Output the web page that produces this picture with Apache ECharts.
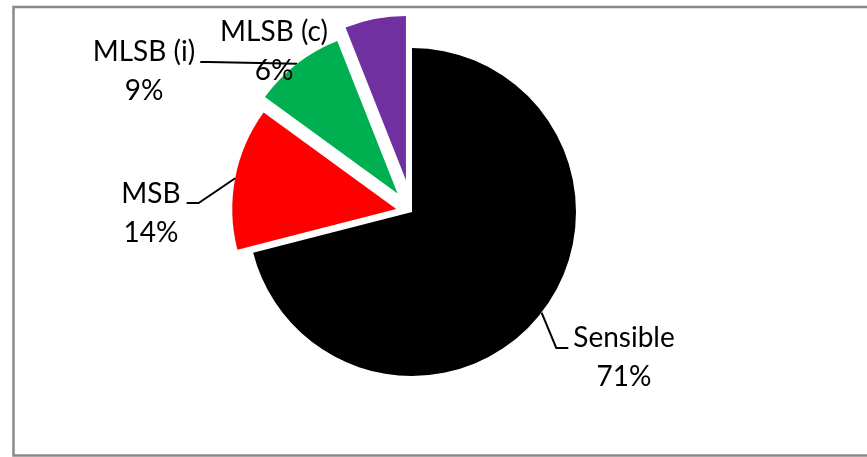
<!DOCTYPE html>
<html>
<head>
<meta charset="utf-8">
<script src="https://cdn.jsdelivr.net/npm/echarts@6/dist/echarts.min.js"></script>
<style>
  html, body { margin: 0; padding: 0; background: #ffffff; }
  #chart { width: 867px; height: 457px; }
</style>
</head>
<body>
<div id="chart"></div>
<script>
// Data
const categories = ['Sensible', 'MSB', 'MLSB (i)', 'MLSB (c)'];
const shares = [71, 14, 9, 6];

// Styling / layout
const sliceColors = ['#000000', '#FF0000', '#00B050', '#7030A0'];
const CX = 412, CY = 212, R = 164;
const explode = [0, 16, 23.5, 32.5];          // pull-out distance of each slice (px)
const labelPos = [[624, 357], [151, 213], [144, 71], [274, 51]];
// leader line: which side of the label it leaves from, gap to the text, horizontal run, vertical offset
const leaders = [
  { side: 'left', gap: 5, run: 12, dy: -9 },
  { side: 'right', gap: 6, run: 12, dy: -10 },
  { side: 'right', gap: 5, run: 8, dy: -9 },
  null
];

const total = shares.reduce((a, b) => a + b, 0);
// clockwise angle from 12 o'clock to the middle of each slice
const midAngles = [];
{
  let acc = 0;
  shares.forEach(v => {
    midAngles.push(((acc + v / 2) / total) * 2 * Math.PI);
    acc += v;
  });
}
function centerOf(i) {
  const a = midAngles[i];
  return [CX + explode[i] * Math.sin(a), CY - explode[i] * Math.cos(a)];
}
function arcPoint(i) {
  const c = centerOf(i);
  const a = midAngles[i];
  return [c[0] + R * Math.sin(a), c[1] - R * Math.cos(a)];
}

const labelFont = { fontFamily: 'Lato', fontSize: 28, lineHeight: 39, color: '#000000' };

const chart = echarts.init(document.getElementById('chart'), null, { renderer: 'canvas' });

chart.setOption({
  animation: false,
  backgroundColor: '#ffffff',
  graphic: [{
    type: 'rect',
    silent: true,
    shape: { x: 13.5, y: 7, width: 900, height: 448.5 },
    style: { fill: 'none', stroke: '#898989', lineWidth: 2.5 }
  }],
  series: categories.map((_, k) => ({
    type: 'pie',
    center: centerOf(k),
    radius: R,
    startAngle: 90,
    clockwise: true,
    avoidLabelOverlap: false,
    percentPrecision: 0,
    silent: true,
    emphasis: { disabled: true },
    itemStyle: { borderWidth: 0 },
    data: categories.map((name, i) => ({
      name: name,
      value: shares[i],
      itemStyle: { color: sliceColors[i], opacity: i === k ? 1 : 0 },
      label: Object.assign({
        show: i === k,
        position: 'outside',
        formatter: '{b}\n{d}%',
        align: 'center'
      }, labelFont),
      labelLine: {
        show: i === k && leaders[i] != null,
        lineStyle: { color: '#000000', width: 2 }
      }
    })),
    labelLayout: function (p) {
      const i = p.dataIndex;
      const lx = labelPos[i][0], ly = labelPos[i][1];
      const out = { x: lx, y: ly, align: 'center', verticalAlign: 'middle' };
      const lead = leaders[i];
      if (lead) {
        const half = p.labelRect.width / 2;
        const sx = lead.side === 'left' ? lx - half - lead.gap : lx + half + lead.gap;
        const ex = lead.side === 'left' ? sx - lead.run : sx + lead.run;
        const ey = ly + lead.dy;
        out.labelLinePoints = [arcPoint(i), [ex, ey], [sx, ey]];
      }
      return out;
    }
  }))
});
</script>
</body>
</html>
